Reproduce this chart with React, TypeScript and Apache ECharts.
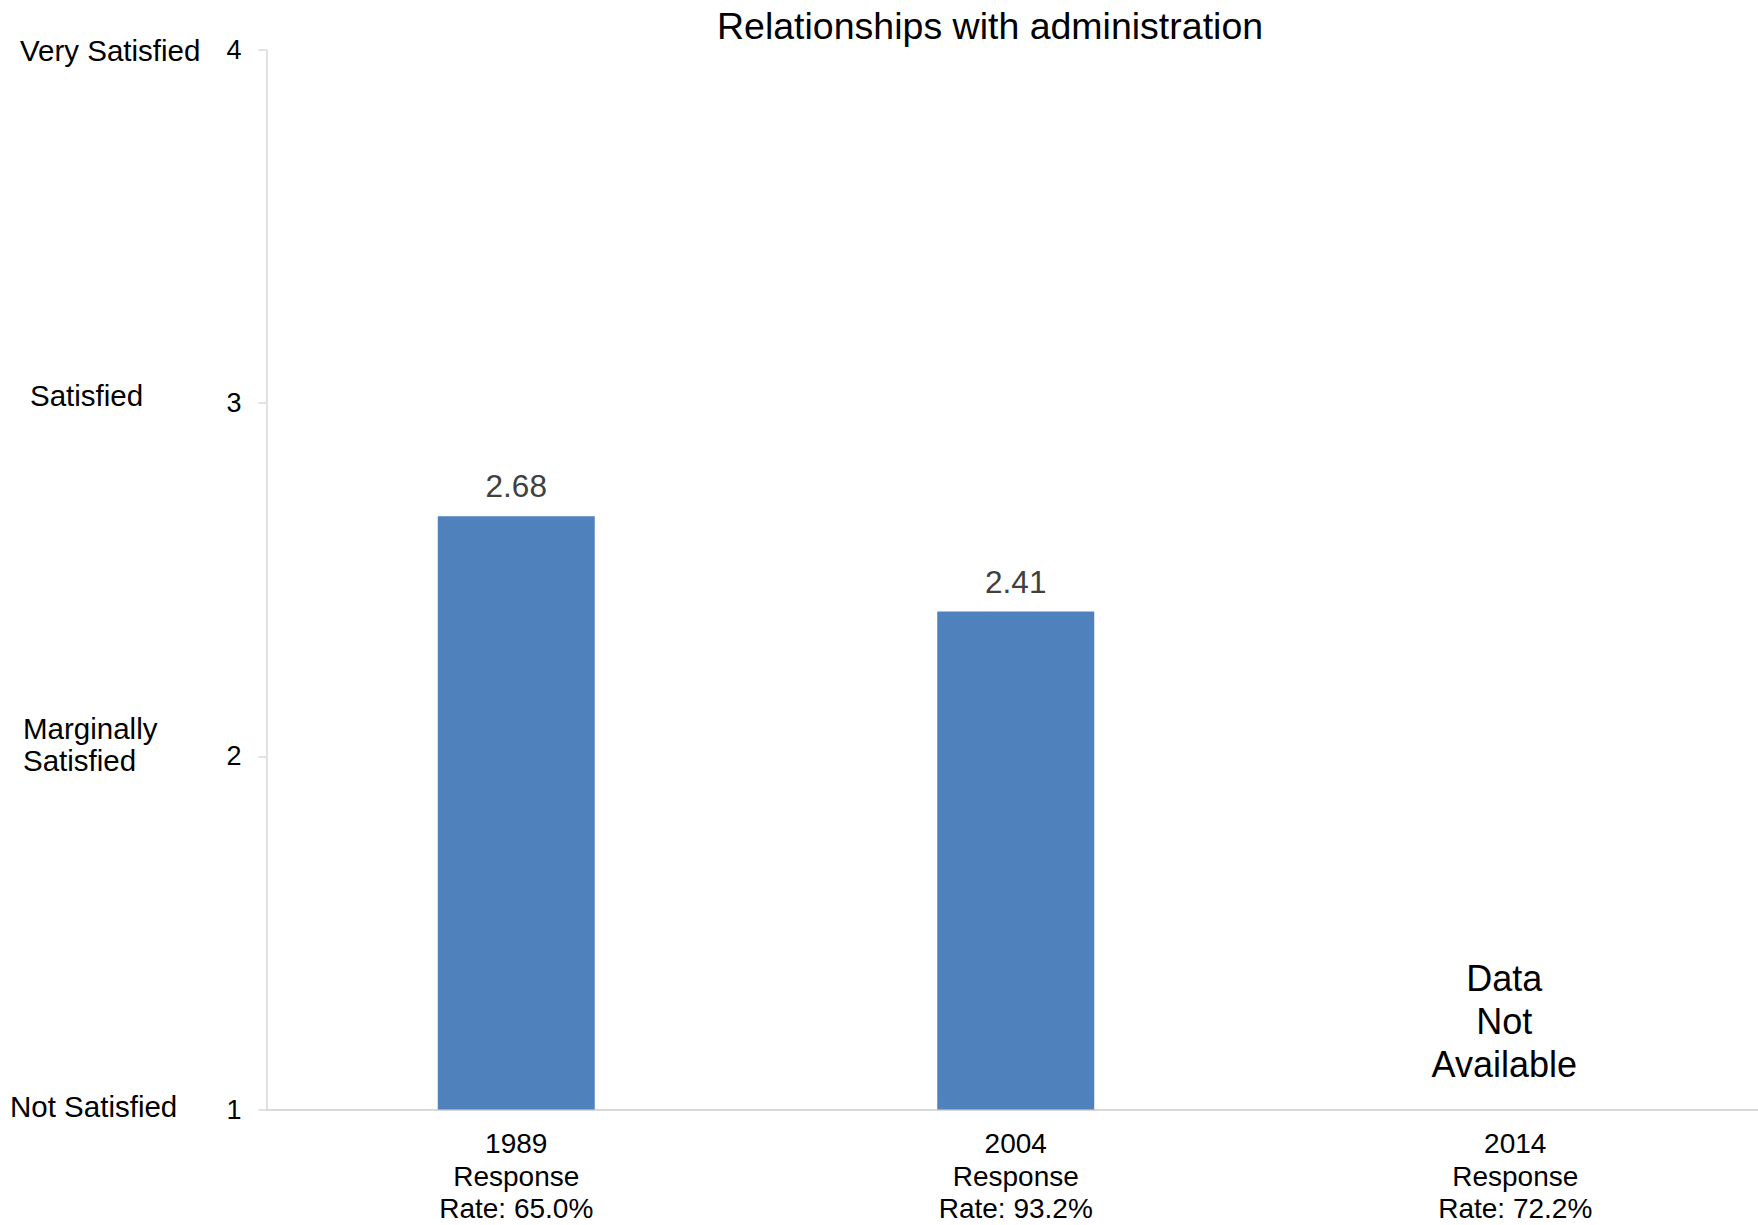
import React, { useEffect, useRef } from "react";
import * as echarts from "echarts";

const titleText = "Relationships with administration";
const categories = [
  "1989\nResponse\nRate: 65.0%",
  "2004\nResponse\nRate: 93.2%",
  "2014\nResponse\nRate: 72.2%",
];
const scores: (number | null)[] = [2.68, 2.41, null];
const yTicks = { min: 1, max: 4, interval: 1 };
const scaleLabels = [
  { text: "Very Satisfied", x: 20, y: 50 },
  { text: "Satisfied", x: 30, y: 395 },
  { text: "Marginally\nSatisfied", x: 23, y: 744 },
  { text: "Not Satisfied", x: 10, y: 1106 },
];
const naNote = { index: 2, value: 1.25, text: "Data\nNot\nAvailable" };

const FONT = "'Liberation Sans', Arial, Helvetica, sans-serif";

export default function App() {
  const ref = useRef<HTMLDivElement>(null);
  useEffect(() => {
    if (!ref.current) return;
    const chart = echarts.init(ref.current, undefined, { renderer: "svg" });
    chart.setOption({
      animation: false,
      backgroundColor: "#ffffff",
      title: {
        text: titleText,
        left: 712,
        top: 2,
        textStyle: { fontFamily: FONT, fontSize: 37.5, fontWeight: "normal", color: "#000" },
      },
      grid: { left: 266.5, top: 50, width: 1498.5, height: 1061, containLabel: false },
      xAxis: {
        type: "category",
        data: categories,
        axisLine: { show: true, lineStyle: { color: "#d9d9d9", width: 2 } },
        axisTick: { show: false },
        axisLabel: {
          fontFamily: FONT,
          fontSize: 28,
          lineHeight: 32.5,
          color: "#000",
          margin: 18,
          interval: 0,
        },
      },
      yAxis: {
        type: "value",
        min: yTicks.min,
        max: yTicks.max,
        interval: yTicks.interval,
        axisLine: { show: true, lineStyle: { color: "#d9d9d9", width: 1.5 } },
        axisTick: { show: true, length: 8, lineStyle: { color: "#d9d9d9", width: 1.5 } },
        splitLine: { show: false },
        axisLabel: { fontFamily: FONT, fontSize: 27, color: "#000", margin: 25 },
      },
      series: [
        {
          type: "bar",
          data: scores,
          barWidth: 157,
          itemStyle: { color: "#4F81BD" },
          label: {
            show: true,
            position: "top",
            distance: 14,
            fontFamily: FONT,
            fontSize: 31.5,
            color: "#404040",
            formatter: (p: any) => (p.value == null ? "" : Number(p.value).toFixed(2)),
          },
        },
        {
          type: "scatter",
          data: [[naNote.index, naNote.value]],
          symbolSize: 1,
          itemStyle: { color: "rgba(255,255,255,0)" },
          silent: true,
          label: {
            show: true,
            position: "inside",
            offset: [-11, 0],
            formatter: naNote.text,
            fontFamily: FONT,
            fontSize: 36,
            lineHeight: 43,
            color: "#000000",
            opacity: 1,
            textBorderWidth: 0,
            textBorderColor: "transparent",
            align: "center",
          },
        },
      ],
      graphic: scaleLabels.map((s) => ({
        type: "text",
        x: s.x,
        y: s.y,
        style: {
          text: s.text,
          font: `29.5px ${FONT}`,
          fill: "#000",
          align: "left",
          verticalAlign: "middle",
          lineHeight: 32,
        },
      })),
    });
    return () => chart.dispose();
  }, []);
  return (
    <div
      style={{
        position: "fixed",
        left: 0,
        top: 0,
        width: 1758,
        height: 1225,
        overflow: "hidden",
        background: "#fff",
      }}
    >
      <div ref={ref} style={{ width: 1770, height: 1225 }} />
    </div>
  );
}
